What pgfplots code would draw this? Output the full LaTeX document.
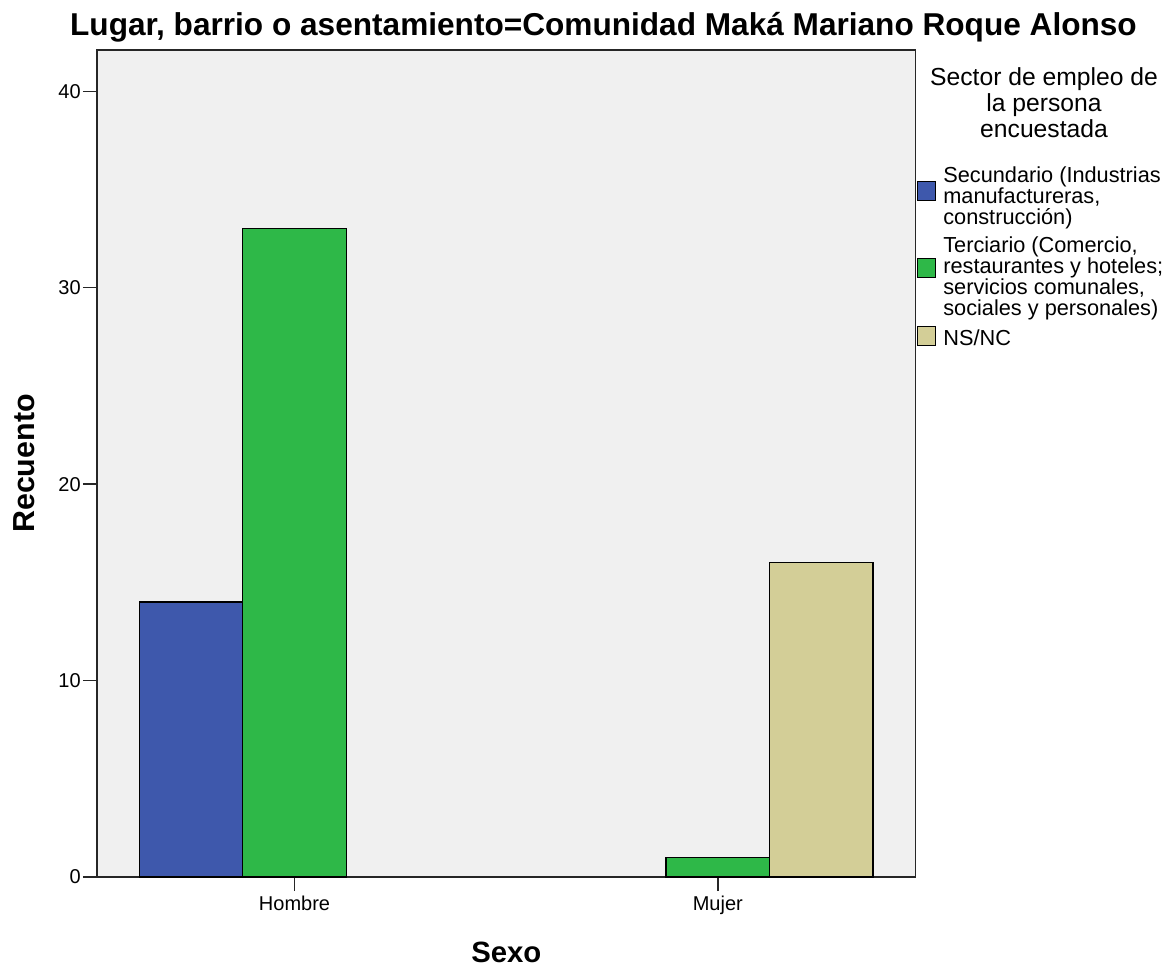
\documentclass[border=0pt]{standalone}
\usepackage{pgfplots}
\pgfplotsset{compat=1.18}
\usepackage{fontspec}
\setmainfont{Liberation Sans}
\definecolor{cblue}{RGB}{62,88,172}
\definecolor{cgreen}{RGB}{46,184,72}
\definecolor{ctan}{RGB}{211,206,151}
\definecolor{cbg}{RGB}{240,240,240}
\lineskiplimit=-30pt
\pgfplotsset{
  swatch/.style={legend image code/.code={%
    \draw[##1,/tikz/.cd,draw=black,line width=0.75pt] (0pt,{-7.125pt+#1}) rectangle (13.5pt,{7.125pt+#1});}},
}
\begin{document}
\begin{tikzpicture}
\path[use as bounding box] (0,0) rectangle (879.75pt,-725.25pt);
\node[font=\fontsize{23.7}{28}\selectfont\bfseries, anchor=base, inner sep=0pt] at (452.6pt,-26.25pt)
  {Lugar, barrio o asentamiento=Comunidad Maká Mariano Roque Alonso};
\begin{axis}[
  at={(72.75pt,-657.75pt)}, anchor=south west,
  scale only axis, width=614pt, height=620.25pt,
  xmin=-0.4666, xmax=1.4675, ymin=0, ymax=42.1,
  axis background/.style={fill=cbg},
  axis line style={line width=1.1pt, black!85},
  xtick={0,1}, xticklabels={Hombre,Mujer},
  ytick={0,10,20,30,40},
  xtick pos=bottom, ytick pos=left,
  tick align=outside, major tick length=10.5pt,
  tick style={line width=1.1pt, black!85},
  ticklabel style={font=\fontsize{15}{18}\selectfont},
  /pgf/number format/assume math mode=true,
  yticklabel style={inner sep=1.5pt},
  xticklabel style={inner sep=3.5pt},
  xlabel={Sexo}, ylabel={Recuento},
  label style={font=\fontsize{22}{26}\selectfont\bfseries},
  xlabel style={at={(axis description cs:0.5,-0.0907)}, anchor=center, inner sep=0pt},
  ylabel style={at={(axis description cs:-0.0892,0.5)}, anchor=center, inner sep=0pt,
    font=\fontsize{22.8}{26}\selectfont\bfseries},
  legend style={at={(1.0012,0.8622)}, anchor=north west, draw=none, fill=none,
    inner sep=0pt, outer sep=0pt, row sep=4pt, column sep=3.75pt,
    font=\fontsize{16.3}{15.75}\selectfont,
    cells={anchor=west, align=left, inner sep=0pt}},
]
\addplot[ybar, bar width=0.2445, bar shift=-0.2445, fill=cblue, draw=black, line width=0.9pt, swatch=4.1pt]
  coordinates {(0,14)};
\addlegendentry{Secundario (Industrias\\manufactureras,\\construcción)}
\addplot[ybar, bar width=0.2445, bar shift=0, fill=cgreen, draw=black, line width=0.9pt, swatch=6.8pt]
  coordinates {(0,33) (1,1)};
\addlegendentry{Terciario (Comercio,\\restaurantes y hoteles;\\servicios comunales,\\sociales y personales)}
\addplot[ybar, bar width=0.2445, bar shift=0.2445, fill=ctan, draw=black, line width=0.9pt, swatch=2.25pt]
  coordinates {(1,16)};
\addlegendentry{NS/NC}
\end{axis}
\node[font=\fontsize{18.5}{19.5}\selectfont, align=center, anchor=north, inner sep=0pt]
  at (783pt,-50.25pt) {Sector de empleo de\\la persona\\encuestada};
\end{tikzpicture}
\end{document}
